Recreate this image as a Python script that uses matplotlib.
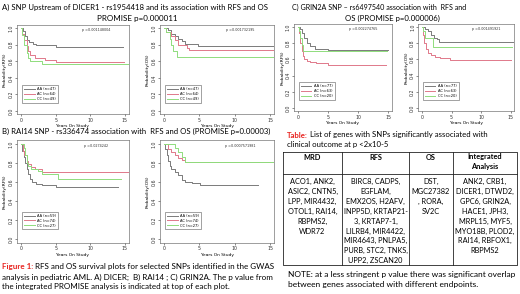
import matplotlib
matplotlib.use("Agg")
import matplotlib.pyplot as plt

# --- Kaplan-Meier curves: (times in years, survival) ---
A_RFS_AA = ([0, 0.3, 0.6, 0.9, 1.2, 1.8, 2.2, 5.0, 14.7], [1, 0.96, 0.9, 0.85, 0.83, 0.81, 0.79, 0.77, 0.77])
A_RFS_AC = ([0, 0.2, 0.5, 0.8, 1.0, 1.3, 2.0, 3.5, 5.0, 14.8], [1, 0.93, 0.85, 0.78, 0.72, 0.67, 0.64, 0.62, 0.59, 0.59])
A_RFS_CC = ([0, 0.2, 0.5, 0.8, 1.0, 1.3, 3.0, 15.5], [1, 0.92, 0.8, 0.7, 0.64, 0.6, 0.57, 0.57])

A_OS_AA = ([0, 0.5, 1.0, 1.5, 2.0, 2.5, 3.0, 4.8, 15.5], [1, 0.97, 0.93, 0.9, 0.87, 0.84, 0.81, 0.785, 0.785])
A_OS_AC = ([0, 0.3, 1.0, 1.5, 2.0, 3.0, 3.3, 3.6, 15.5], [1, 0.95, 0.9, 0.85, 0.8, 0.79, 0.76, 0.74, 0.74])
A_OS_CC = ([0, 0.3, 0.8, 1.0, 1.3, 1.8, 15.5], [1, 0.95, 0.87, 0.8, 0.72, 0.65, 0.65])

B_RFS_AA = ([0, 0.2, 0.4, 0.6, 0.8, 1.0, 1.3, 1.6, 2.2, 3.0, 5.0, 14.0],
            [1, 0.93, 0.86, 0.8, 0.74, 0.68, 0.63, 0.6, 0.58, 0.57, 0.545, 0.545])
B_RFS_AC = ([0, 0.3, 0.5, 0.8, 1.0, 1.5, 2.0, 3.0, 15.5], [1, 0.93, 0.88, 0.82, 0.79, 0.76, 0.74, 0.705, 0.705])
B_RFS_CC = ([0, 0.4, 0.6, 0.8, 1.0, 1.5, 2.5, 3.0, 5.3, 14.4], [1, 0.96, 0.88, 0.8, 0.77, 0.74, 0.72, 0.68, 0.635, 0.635])

B_OS_AA = ([0, 0.2, 0.4, 0.6, 0.8, 1.0, 1.5, 2.0, 2.5, 3.0, 4.0, 5.1, 13.3],
           [1, 0.95, 0.88, 0.82, 0.77, 0.74, 0.71, 0.67, 0.62, 0.6, 0.585, 0.565, 0.565])
B_OS_AC = ([0, 0.5, 1.0, 1.5, 2.0, 2.5, 3.0, 15.5], [1, 0.95, 0.92, 0.88, 0.85, 0.83, 0.815, 0.815])
B_OS_CC = ([0, 1.5, 2.0, 2.5, 3.0, 15.5], [1, 0.96, 0.92, 0.86, 0.81, 0.81])

C_RFS_AA = ([0, 0.3, 0.6, 1.0, 1.5, 2.0, 2.8, 5.0, 15.0], [1, 0.97, 0.93, 0.86, 0.8, 0.76, 0.73, 0.71, 0.71])
C_RFS_AC = ([0, 0.2, 0.4, 0.6, 0.8, 1.0, 1.5, 2.0, 3.0, 4.0, 5.0, 14.7],
            [1, 0.92, 0.8, 0.7, 0.64, 0.6, 0.58, 0.57, 0.56, 0.55, 0.53, 0.53])
C_RFS_CC = ([0, 0.2, 0.4, 0.6, 0.8, 14.8], [1, 0.95, 0.87, 0.78, 0.70, 0.70])

C_OS_AA = ([0, 0.5, 1.0, 1.5, 2.0, 2.5, 2.9, 15.5], [1, 0.98, 0.95, 0.9, 0.87, 0.85, 0.815, 0.815])
C_OS_AC = ([0, 0.2, 0.4, 0.7, 1.0, 1.5, 2.2, 3.0, 4.7, 15.0], [1, 0.9, 0.8, 0.73, 0.68, 0.65, 0.63, 0.62, 0.595, 0.595])
C_OS_CC = ([0, 0.2, 0.5, 1.9, 15.2], [1, 0.95, 0.86, 0.75, 0.75])

A_LEGEND = ["AA (n=47)", "AC (n=64)", "CC (n=49)"]
B_LEGEND = ["AA (n=59)", "AC (n=74)", "CC (n=27)"]
C_LEGEND = ["AA (n=77)", "AC (n=63)", "CC (n=20)"]

P_VALUES = ["p =0.001148004", "p =0.001732195", "p =0.0274242",
            "p =0.0007571981", "p =0.002274765", "p =0.001491921"]

X_TICKS = [0, 5, 10, 15]
Y_TICKS = [0.0, 0.2, 0.4, 0.6, 0.8, 1.0]

MRD_GENES = ["ACO1, ANK2,", "ASIC2, CNTN5,", "LPP, MIR4432,", "OTOL1, RAI14,", "RBPMS2,", "WDR72"]
RFS_GENES = ["BIRC8, CADPS,", "EGFLAM,", "EMX2OS, H2AFV,", "INPP5D, KRTAP21-", "3, KRTAP7-1,",
             "LILRB4, MIR4422,", "MIR4643, PNLPA5,", "PURB, STC2, TNKS,", "UPP2, ZSCAN20"]
OS_GENES = ["DST,", "MGC27382", ", RORA,", "SV2C"]
INT_GENES = ["ANK2, CRB1,", "DICER1, DTWD2,", "GPC6, GRIN2A,", "HACE1, JPH3,", "MRPL15, MYF5,",
             "MYO18B, PLOD2,", "RAI14, RBFOX1,", "RBPMS2"]
TABLE_HEADERS = ["MRD", "RFS", "OS", "Integrated\nAnalysis"]

COLORS = ["#7a7a7a", "#e0788a", "#8fdc7c"]
TXT = "Lato"
RED = "#e8231f"

W, H = 520, 294
fig = plt.figure(figsize=(5.2, 2.94), dpi=100)


def fx(x):
    return x / W


def fy(y):
    return 1 - y / H


def km_plot(x0, ppy, y1, y0, curves, labels, ylab, ptext):
    # x0: pixel of year 0, ppy: pixels per year, y1/y0: pixel rows of 1.0 and 0.0
    ppv = y0 - y1
    left, right = x0 - 0.6 * ppy, x0 + 15.6 * ppy
    top, bottom = y1 - 0.04 * ppv, y0 + 0.04 * ppv
    ax = fig.add_axes([fx(left), fy(bottom), (right - left) / W, (bottom - top) / H])
    for (t, s), c, lab in zip(curves, COLORS, labels):
        ax.step(t, s, where="post", color=c, lw=0.7, label=lab)
    ax.set_xlim(-0.6, 15.6)
    ax.set_ylim(-0.04, 1.04)
    ax.set_xticks(X_TICKS)
    ax.set_yticks(Y_TICKS)
    ax.set_yticklabels([f"{v:.1f}" for v in Y_TICKS], rotation=90, va="center")
    ax.tick_params(length=1.5, width=0.4, pad=1, labelsize=3.4, colors="#333333")
    for sp in ax.spines.values():
        sp.set_linewidth(0.4)
        sp.set_color("#555555")
    ax.set_xlabel("Years On Study", fontsize=3.2, labelpad=1)
    ax.set_ylabel(ylab, fontsize=3.2, labelpad=1)
    ax.text(10.8, 0.975, ptext, ha="center", va="center", fontsize=2.4, color="#333333")
    leg = ax.legend(loc="lower left", bbox_to_anchor=(0.045, 0.13), borderaxespad=0,
                    fontsize=2.6, handlelength=3, frameon=True, fancybox=False,
                    borderpad=0.5, labelspacing=0.25)
    leg.get_frame().set_edgecolor("#333333")
    leg.get_frame().set_linewidth(0.4)
    return ax


km_plot(21, 6.93, 28, 111, [A_RFS_AA, A_RFS_AC, A_RFS_CC], A_LEGEND, "Probability(RFS)", P_VALUES[0])
km_plot(164, 7.07, 28, 111, [A_OS_AA, A_OS_AC, A_OS_CC], A_LEGEND, "Probability(OS)", P_VALUES[1])
km_plot(21, 6.93, 144, 239, [B_RFS_AA, B_RFS_AC, B_RFS_CC], B_LEGEND, "Probability(RFS)", P_VALUES[2])
km_plot(164, 7.07, 144, 239, [B_OS_AA, B_OS_AC, B_OS_CC], B_LEGEND, "Probability(OS)", P_VALUES[3])
km_plot(298, 6.0, 27, 108, [C_RFS_AA, C_RFS_AC, C_RFS_CC], C_LEGEND, "Probability(RFS)", P_VALUES[4])
km_plot(422, 5.9, 27, 108, [C_OS_AA, C_OS_AC, C_OS_CC], C_LEGEND, "Probability(OS)", P_VALUES[5])

# --- panel titles ---
fig.text(fx(2), fy(7), "A) SNP Upstream of DICER1 - rs1954418 and its association with RFS and OS",
         family=TXT, fontsize=5.6, va="center")
fig.text(fx(137), fy(18), "PROMISE p=0.000011", family=TXT, fontsize=5.8, va="center", ha="center")
fig.text(fx(2), fy(131), "B) RAI14 SNP - rs336474 association with  RFS and OS (PROMISE p=0.00003)",
         family=TXT, fontsize=5.6, va="center")
fig.text(fx(292), fy(7), "C) GRIN2A SNP \u2013 rs6497540 association with  RFS and",
         family=TXT, fontsize=5.1, va="center")
fig.text(fx(392), fy(18), "OS (PROMISE p=0.000006)", family=TXT, fontsize=5.6, va="center", ha="center")

# --- figure caption ---
cfs = 5.8
cap = fig.text(fx(2), fy(267), "Figure 1:", family=TXT, fontsize=cfs, va="center",
               color=RED, fontweight="bold")
plt.annotate(" RFS and OS survival plots for selected SNPs identified in the GWAS",
             xy=(1, 0.5), xycoords=cap, va="center", family=TXT, fontsize=cfs)
fig.text(fx(2), fy(277), "analysis in pediatric AML. A) DICER;  B) RAI14 ; C) GRIN2A. The p value from",
         family=TXT, fontsize=cfs, va="center")
fig.text(fx(2), fy(287), "the integrated PROMISE analysis is indicated at top of each plot.",
         family=TXT, fontsize=cfs, va="center")

# --- table caption ---
tcap = fig.text(fx(287), fy(135), "Table:", family=TXT, fontsize=5.6, va="center",
                color=RED, fontweight="bold")
plt.annotate(" List of genes with SNPs significantly associated with",
             xy=(1, 0.5), xycoords=tcap, va="center", family=TXT, fontsize=5.6)
fig.text(fx(287), fy(145), "clinical outcome at p <2x10-5", family=TXT, fontsize=5.6, va="center")

# --- gene table ---
tab = fig.add_axes([0, 0, 1, 1])
tab.set_xlim(0, W)
tab.set_ylim(H, 0)
tab.axis("off")
col_edges = [283, 342, 409, 453, 517]
t_top, t_head, t_bot = 152, 174, 265
lk = dict(color="#222222", lw=0.6)
tab.plot([col_edges[0], col_edges[-1], col_edges[-1], col_edges[0], col_edges[0]],
         [t_top, t_top, t_bot, t_bot, t_top], **lk)
tab.plot([col_edges[0], col_edges[-1]], [t_head, t_head], **lk)
for xe in col_edges[1:-1]:
    tab.plot([xe, xe], [t_top, t_bot], **lk)
tfs = 5.3
for i, head in enumerate(TABLE_HEADERS):
    xc = (col_edges[i] + col_edges[i + 1]) / 2
    tab.text(xc, 153.5, head, ha="center", va="top", family=TXT, fontsize=tfs,
             fontweight="bold", linespacing=1.35)
for i, genes in enumerate([MRD_GENES, RFS_GENES, OS_GENES, INT_GENES]):
    xc = (col_edges[i] + col_edges[i + 1]) / 2
    for j, g in enumerate(genes):
        tab.text(xc, 181.5 + j * 9.9, g, ha="center", va="center", family=TXT, fontsize=tfs)

fig.text(fx(288), fy(275), "NOTE: at a less stringent p value there was significant overlap",
         family=TXT, fontsize=6.0, va="center")
fig.text(fx(288), fy(284), "between genes associated with different endpoints.",
         family=TXT, fontsize=6.0, va="center")

fig.savefig("out.png", dpi=100)
